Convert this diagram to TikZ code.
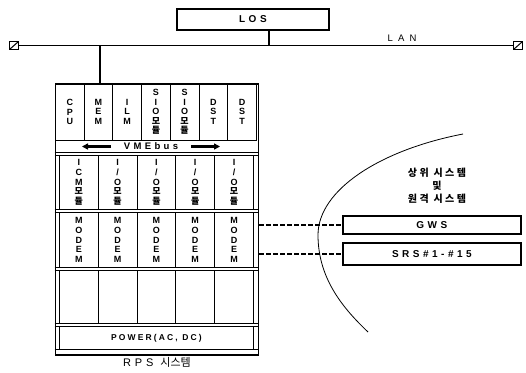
\documentclass[tikz,border=0pt]{standalone}
\usepackage{fontspec}
\setmainfont{Liberation Sans}
\newfontfamily\kr{Noto Sans CJK KR}
\usetikzlibrary{arrows.meta}
\begin{document}
\begin{tikzpicture}[x=1pt,y=-1pt,
  thickbox/.style={draw, line width=1.8pt, inner sep=0pt, anchor=north west},
  cell/.style={draw, line width=0.8pt, inner sep=0pt, anchor=north west, align=center,
    font=\bfseries\fontsize{9}{9.6}\selectfont},
  term/.style={draw, line width=1.2pt, minimum width=9pt, minimum height=8pt, inner sep=0pt,
    path picture={\draw[line width=1pt] (path picture bounding box.south west) -- (path picture bounding box.north east);}},
  lanline/.style={line width=1.4pt},
  drop/.style={line width=2.4pt},
  rule/.style={line width=0.8pt},
  dashconn/.style={line width=1.6pt, dash pattern=on 4.5pt off 2.5pt},
  busarrow/.style={line width=2.6pt, -{Triangle[length=6pt,width=6pt]}},
  spaced/.style={font=\bfseries\fontsize{#1}{12}\selectfont\addfontfeature{LetterSpace=35}},
]
\useasboundingbox (0,0) rectangle (526,372);

% LOS and LAN
\node[thickbox, minimum width=152pt, minimum height=21pt] (los) at (176,8) {};
\node[spaced=10] at (los.center) {LOS};
\node[term] (tl) at (14,45.5) {};
\node[term] (tr) at (518,45.5) {};
\draw[lanline] (tl.east) -- (tr.west);
\node[font=\fontsize{9.5}{12}\selectfont\addfontfeature{LetterSpace=55}] (lan) at (402,38) {LAN};
\coordinate (losTap) at (269,45.5);
\coordinate (rackTap) at (100,45.5);
\draw[drop] (losTap |- los.south) -- (losTap);

% Rack
\node[thickbox, minimum width=203pt, minimum height=271pt] (rack) at (54.5,83) {};
\draw[drop] (rackTap) -- (rackTap |- rack.north);

% row 1
\def\wa{28.714}
\node[cell, minimum width=\wa pt, minimum height=57pt] (cpu) at (55,83) {C\\P\\U};
\node[cell, minimum width=\wa pt, minimum height=57pt] (mem) at (83.71,83) {M\\E\\M};
\node[cell, minimum width=\wa pt, minimum height=57pt] (ilm) at (112.43,83) {I\\L\\M};
\node[cell, minimum width=\wa pt, minimum height=57pt] (sioa) at (141.14,83) {S\\I\\O\\{\kr 모}\\{\kr 듈}};
\node[cell, minimum width=\wa pt, minimum height=57pt] (siob) at (169.86,83) {S\\I\\O\\{\kr 모}\\{\kr 듈}};
\node[cell, minimum width=\wa pt, minimum height=57pt] (dsta) at (198.57,83) {D\\S\\T};
\node[cell, minimum width=\wa pt, minimum height=57pt] (dstb) at (227.29,83) {D\\S\\T};

% VMEbus band
\node[spaced=9.5] (vme) at (151,146.5) {VMEbus};
\coordinate (vl1) at (111,146.5); \coordinate (vl2) at (82,146.5);
\coordinate (vr1) at (191,146.5); \coordinate (vr2) at (220,146.5);
\draw[busarrow] (vl1) -- (vl2);
\draw[busarrow] (vr1) -- (vr2);

% horizontal double rules
\foreach \yy in {152,155,209,212,267,270,323,326,349}
  \draw[rule] (rack.west |- 0,\yy) -- (rack.east |- 0,\yy);

% row 2
\def\wb{38.8}
\node[cell, minimum width=\wb pt, minimum height=54pt] (icm) at (59,155) {I\\C\\M\\{\kr 모}\\{\kr 듈}};
\foreach \i/\xx in {1/97.8,2/136.6,3/175.4,4/214.2}
  \node[cell, minimum width=\wb pt, minimum height=54pt] (io\i) at (\xx,155) {I\\/\\O\\{\kr 모}\\{\kr 듈}};

% row 3 modems
\foreach \i/\xx in {1/59,2/97.8,3/136.6,4/175.4,5/214.2}
  \node[cell, minimum width=\wb pt, minimum height=55pt] (modem\i) at (\xx,212) {M\\O\\D\\E\\M};

% row 4 empty
\foreach \i/\xx in {1/59,2/97.8,3/136.6,4/175.4,5/214.2}
  \node[cell, minimum width=\wb pt, minimum height=53pt] (slot\i) at (\xx,270) {};

% power
\node[cell, minimum width=194pt, minimum height=23pt, font=\bfseries\fontsize{8.5}{10}\selectfont\addfontfeature{LetterSpace=25}] (power) at (59,326) {POWER(AC, DC)};

\node[font=\fontsize{11}{13}\selectfont\addfontfeature{LetterSpace=35}] (rps) at (157,362) {RPS {\kr 시스템}};

% right side
\draw[line width=0.8pt] (463,134) .. controls (380,150) and (318,190) .. (318,235)
  .. controls (318,280) and (345,310) .. (368,332);
\node[align=center, font=\kr\bfseries\fontsize{10}{13}\selectfont\addfontfeature{LetterSpace=25}] (upper) at (437,186) {상위 시스템\\및\\원격 시스템};

\node[thickbox, minimum width=178pt, minimum height=18pt] (gws) at (342,215) {};
\node[spaced=10] at (gws.center) {GWS};
\node[thickbox, minimum width=178pt, minimum height=22pt] (srs) at (342,242) {};
\node[spaced=10] at (srs.center) {SRS\#1-\#15};

\draw[dashconn] (rack.east |- gws.west) -- (gws.west);
\draw[dashconn] (rack.east |- srs.west) -- (srs.west);
\end{tikzpicture}
\end{document}
